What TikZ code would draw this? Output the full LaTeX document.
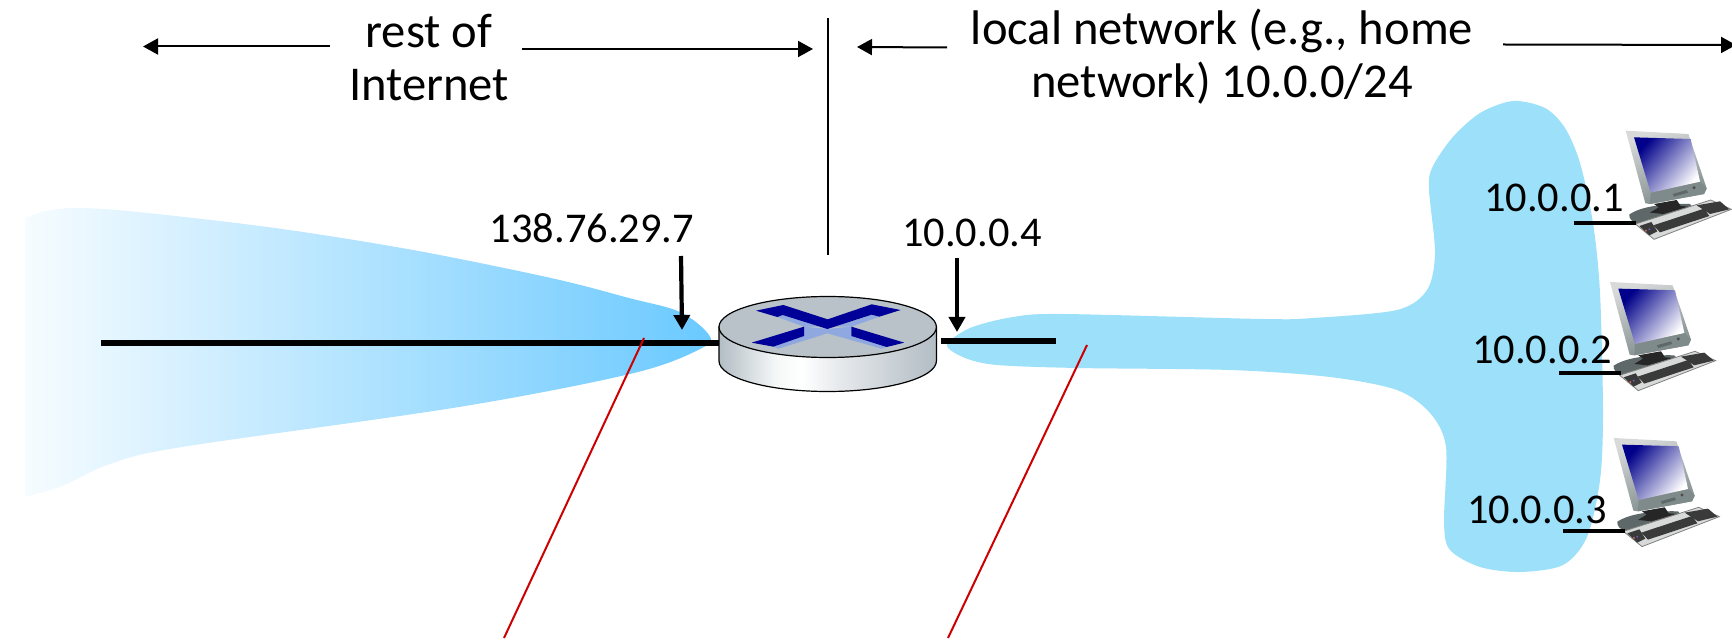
\documentclass[tikz,border=0pt]{standalone}
\usepackage{fontspec}
\setmainfont{Carlito}
\usetikzlibrary{arrows.meta}
\definecolor{lanblue}{HTML}{9CE0FA}
\definecolor{wanR}{HTML}{6AC9FF}
\definecolor{wanM}{HTML}{B9E7FF}
\definecolor{wanL}{HTML}{F6FCFF}
\definecolor{rtop}{HTML}{B8C2C8}
\definecolor{xdark}{HTML}{000099}
\definecolor{xlight}{HTML}{8FA8DF}
\definecolor{redline}{HTML}{CC0000}
\definecolor{pcgray}{HTML}{7F8A8A}
\definecolor{pcdark}{HTML}{5E6868}
\definecolor{pclight}{HTML}{D8DADA}
\definecolor{keydark}{HTML}{3A3A3A}
\pgfdeclarehorizontalshading{routerside}{100bp}{rgb(0bp)=(.70,.74,.77); rgb(25bp)=(.70,.74,.77); rgb(38bp)=(.96,.97,.97); rgb(44bp)=(1,1,1); rgb(52bp)=(.91,.92,.93); rgb(75bp)=(.70,.74,.77); rgb(100bp)=(.70,.74,.77)}
\tikzset{
  biglabel/.style={font=\fontsize{24.3}{26.5}\selectfont,align=center,inner sep=0pt,anchor=base},
  iplabel/.style={font=\fontsize{21.2}{24}\selectfont,inner sep=0pt,anchor=base},
  thinarrow/.style={draw=black,line width=1pt,-{Triangle[length=7.5pt,width=8pt]}},
  droparrow/.style={draw=black,line width=2.1pt,-{Triangle[length=7.5pt,width=8pt]}},
  thickwire/.style={draw=black,line width=2.8pt},
  pcwire/.style={draw=black,line width=1.7pt},
  redwire/.style={draw=redline,line width=1pt}
}
\newcommand{\drawpc}[2]{%
\begin{scope}[shift={(#1,#2)},scale=1/3]
  % base and stand
  \fill[pcdark] (208,283) .. controls (240,262) and (300,250) .. (390,252) -- (400,264) -- (232,312) .. controls (216,306) and (206,295) .. (208,283) -- cycle;
  \fill[black!85] (282,252) -- (350,240) -- (362,258) -- (385,260) -- (310,282) -- (270,278) -- (296,262) -- cycle;
  % monitor
  \shade[top color=pclight,bottom color=pcgray,shading angle=20] (197,32) -- (385,42) -- (440,205) -- (432,222) -- (270,252) -- (256,250) -- cycle;
  \fill[pcgray] (272,218) -- (420,185) -- (440,205) -- (432,222) -- (270,252) -- cycle;
  \shade[top color=xdark!90!black,bottom color=white,shading angle=50] (222,52) -- (392,57) -- (420,185) -- (272,218) -- cycle;
  \fill[pcdark] (338,222) -- (380,210) -- (384,218) -- (342,230) -- cycle;
  \fill[black!70] (402,203) circle[radius=5];
  % keyboard
  \fill[pclight,draw=gray,line width=0.4pt] (226,312) -- (452,240) -- (514,268) -- (282,358) -- cycle;
  \fill[keydark] (280,316) -- (432,266) -- (448,288) -- (300,337) -- cycle;
  \fill[keydark] (410,256) -- (480,244) -- (508,268) -- (450,282) -- cycle;
  \fill[keydark] (238,318) -- (274,306) -- (292,334) -- (268,346) -- cycle;
  \fill[redline!60!white] (258,332) circle[radius=3];
  \fill[xdark!60!white] (268,328) circle[radius=3];
\end{scope}}
\begin{document}
\begin{tikzpicture}[x=0.5pt,y=-0.5pt]
\useasboundingbox (0,0) rectangle (1732,641);
% left cloud
\shade[left color=wanL,middle color=wanM,right color=wanR]
  plot[smooth,tension=0.55] coordinates {(25,218) (46,211) (78,208) (138,212) (275,228) (413,250) (551,278) (629,298) (680,312) (709,335) (702,348) (634,373) (459,407) (182,447) (110,464) (62,486) (25,497)} -- cycle;
% local network cloud
\fill[lanblue] plot[smooth cycle,tension=0.5] coordinates {(1513,101) (1480,113) (1452,138) (1432,168) (1429,190) (1435,253) (1427,290) (1397,310) (1313,318) (1263,319) (1063,314) (1013,317) (970,328) (947,345) (965,358) (997,365) (1077,368) (1230,370) (1330,377) (1397,390) (1430,413) (1446,447) (1444,523) (1450,550) (1480,567) (1520,572) (1563,565) (1587,537) (1600,480) (1603,413) (1600,293) (1593,223) (1580,163) (1565,128) (1545,108)};
% wires
\coordinate (wanstart) at (101,343);
\coordinate (rwest) at (725,343);
\coordinate (reast) at (941,341);
\coordinate (lanend) at (1056,341);
\draw[thickwire] (wanstart) -- (rwest);
\draw[thickwire] (reast) -- (lanend);
% red leaders
\coordinate (redAtop) at (644,338);
\coordinate (redAbot) at (504,638);
\coordinate (redBtop) at (1087,345);
\coordinate (redBbot) at (948,638);
\draw[redwire] (redAtop) -- (redAbot);
\draw[redwire] (redBtop) -- (redBbot);
% router
\shade[shading=routerside,draw=black,line width=0.6pt] (719,327) -- (719,361) arc[start angle=180,end angle=0,x radius=108.7,y radius=30.5] -- (936.4,327) -- cycle;
\fill[rtop,draw=black,line width=0.6pt] (827.7,327) circle[x radius=108.7,y radius=30.5];
\begin{scope}[shift={(640,220)},scale=1/3]
  \fill[xlight] (400,380) -- (415,386) -- (562,340) -- (725,386) -- (740,381) -- (634,348) -- (634,320) -- (562,327) -- (492,320) -- (492,348) -- cycle;
  \fill[xlight] (412,291) -- (428,285) -- (562,327) -- (695,285) -- (718,290) -- (634,320) -- (492,320) -- cycle;
  \fill[xdark] (348,272) -- (430,255) -- (563,298) -- (695,253) -- (782,270) -- (718,290) -- (695,284) -- (562,327) -- (428,285) -- (412,291) -- cycle;
  \fill[xdark] (335,368) -- (492,320) -- (492,348) -- (400,380) -- cycle;
  \fill[xdark] (634,320) -- (793,368) -- (740,381) -- (634,348) -- cycle;
\end{scope}
% computers
\drawpc{1560}{120}
\drawpc{1544.3}{271.3}
\drawpc{1548}{427.3}
% host wires
\coordinate (h1a) at (1574,223); \coordinate (h1b) at (1636,223);
\coordinate (h2a) at (1559,373); \coordinate (h2b) at (1621,373);
\coordinate (h3a) at (1563,531); \coordinate (h3b) at (1625,531);
\draw[pcwire] (h1a) -- (h1b);
\draw[pcwire] (h2a) -- (h2b);
\draw[pcwire] (h3a) -- (h3b);
% divider
\coordinate (divtop) at (828,18);
\coordinate (divbot) at (828,255);
\draw[black,line width=1pt] (divtop) -- (divbot);
% top arrows
\coordinate (a1s) at (330,46.5); \coordinate (a1e) at (143,46.5);
\coordinate (a2s) at (522,49); \coordinate (a2e) at (813,49);
\coordinate (a3s) at (947,47.5); \coordinate (a3e) at (857,47);
\coordinate (a4s) at (1503,44.5); \coordinate (a4e) at (1736,45);
\draw[thinarrow] (a1s) -- (a1e);
\draw[thinarrow] (a2s) -- (a2e);
\draw[thinarrow] (a3s) -- (a3e);
\draw[thinarrow] (a4s) -- (a4e);
% address arrows
\coordinate (d1s) at (681,256); \coordinate (d1e) at (682,330);
\coordinate (d2s) at (957,258); \coordinate (d2e) at (957,332);
\draw[droparrow] (d1s) -- (d1e);
\draw[droparrow] (d2s) -- (d2e);
% labels
\node[biglabel] (restlabel) at (429,101) {rest of\\Internet};
\node[biglabel] (locallabel) at (1222,98) {local network (e.g., home\\network) 10.0.0/24};
\node[iplabel] (wanip) at (592,243) {138.76.29.7};
\node[iplabel] (lanip) at (972,247) {10.0.0.4};
\node[iplabel] (host1) at (1554,212) {10.0.0.1};
\node[iplabel] (host2) at (1542,364) {10.0.0.2};
\node[iplabel] (host3) at (1537,523) {10.0.0.3};
\end{tikzpicture}
\end{document}
